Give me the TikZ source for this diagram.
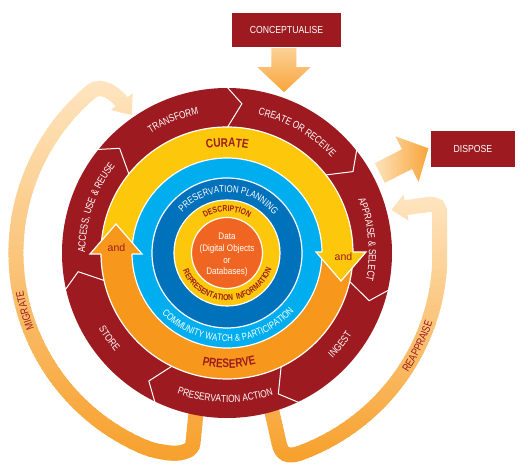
\documentclass[tikz,border=0pt]{standalone}
\usepackage{fontspec}
\setmainfont{Liberation Sans}
\newfontfamily\cnd{Liberation Sans}[FakeStretch=0.85]
\newfontfamily\cndn{Liberation Sans}[FakeStretch=0.8]
\usetikzlibrary{calc}
\definecolor{dred}{HTML}{9D1B20}
\definecolor{dccgold}{HTML}{FDC70C}
\definecolor{dccorange}{HTML}{F7981D}
\definecolor{dcclblue}{HTML}{00AEEF}
\definecolor{dccdblue}{HTML}{0071BB}
\definecolor{dcccore}{HTML}{F16522}
\definecolor{looporange}{HTML}{F7A12E}
\definecolor{looppale}{HTML}{FEE6C2}
\definecolor{arrpale}{HTML}{FDE3BC}
\definecolor{arrorange}{HTML}{F8A53A}
\newcommand\segfont{\cndn\fontsize{10.3}{11}\selectfont}
\newcommand\ringfont{\cndn\bfseries\fontsize{12.5}{14}\selectfont}
\newcommand\bluefont{\cndn\fontsize{9.8}{11}\selectfont}
\newcommand\inkfont{\cndn\bfseries\fontsize{8.5}{9}\selectfont}
\newcommand\loopfont{\cndn\fontsize{11}{12}\selectfont}
\makeatletter
\newdimen\arcTotW
\newdimen\arcChW
% #1 radius, #2 centre angle, #3 direction (1 = clockwise, tops outward; -1 = counter-clockwise, tops inward)
% #4 font, #5 colour, #6 text (spaces written as ~)
\newcommand\arclabel[6]{%
  \begin{pgfinterruptpicture}\setbox0=\hbox{#4#6}\global\arcTotW=\wd0\relax\end{pgfinterruptpicture}%
  \edef\arc@tw{\the\arcTotW}%
  \pgfmathsetmacro\arc@pos{-0.5*\arc@tw}%
  \@tfor\arc@ch:=#6\do{%
    \begin{pgfinterruptpicture}\setbox0=\hbox{#4\arc@ch}\global\arcChW=\wd0\relax\end{pgfinterruptpicture}%
    \edef\arc@cw{\the\arcChW}%
    \pgfmathsetmacro\arc@mid{\arc@pos+0.5*\arc@cw}%
    \pgfmathsetmacro\arc@ang{#2-(#3)*\arc@mid/#1*57.29578}%
    \pgfmathsetmacro\arc@rot{\arc@ang-(#3)*90}%
    \node[text=#5,font=#4,inner sep=0pt,anchor=base,rotate=\arc@rot] at (\arc@ang:#1) {\arc@ch};
    \pgfmathsetmacro\arc@pos{\arc@pos+\arc@cw}%
  }%
}
\makeatother
\tikzset{
  dccbox/.style={fill=dred,text=white,inner sep=0pt,font=\cnd\fontsize{10.2}{12}\selectfont},
  sepline/.style={draw=white,line width=1.2pt},
}
\begin{document}
\begin{tikzpicture}[x=1pt,y=1pt]
\useasboundingbox (-227,-220) rectangle (301,253);
\fill[white] (-227,-220) rectangle (301,253);

% ---- MIGRATE loop (left) ----
\foreach \yy in {-212,-208,...,180} {
  \pgfmathtruncatemacro\pp{max(0,min(100,(\yy+208)/383*100))}
  \begin{scope}
    \clip (-235,\yy) rectangle (-5,\yy+4.5);
    \draw[line width=15pt, draw=looppale!\pp!looporange]
      (-30,-150) -- (-34,-190) .. controls (-35.5,-205) and (-67.5,-201) .. (246:211)
      arc[start angle=246,end angle=130,radius=211]
      .. controls (-126,169.6) and (-112,160) .. (-104,149.7);
    \fill[looppale!\pp!looporange] (-116,143) -- (-95.3,138) -- (-94.3,159.7) -- cycle;
  \end{scope}
}
% ---- REAPPRAISE loop (right) ----
\foreach \yy in {-212,-208,...,60} {
  \pgfmathtruncatemacro\pp{max(0,min(100,(\yy+208)/266*100))}
  \begin{scope}
    \clip (5,\yy) rectangle (235,\yy+4.5);
    \draw[line width=15pt, draw=looppale!\pp!looporange]
      (43,-150) -- (52,-190) .. controls (54.4,-201.8) and (61.5,-204.3) .. (-70:213)
      arc[start angle=-70,end angle=-3,radius=213]
      -- (212.7,38) .. controls (212.7,47) and (210,49) .. (201,48.5) -- (177,45.2);
    \fill[looppale!\pp!looporange] (176.5,58.5) -- (164.5,43) -- (181.5,32.5) -- cycle;
  \end{scope}
}

% ---- outer ring ----
\fill[dred] (0,0) circle[radius=165];
\foreach \k in {0,...,6} {
  \pgfmathsetmacro\ang{90-\k*360/7}
  \draw[white,line width=1pt] (\ang:125) -- (\ang-5.7:150) -- (\ang:166);
}
% ---- curate / preserve ring ----
\fill[dccgold] (0:126) arc[start angle=0,end angle=180,radius=126] -- cycle;
\fill[dccorange] (180:126) arc[start angle=180,end angle=360,radius=126] -- cycle;
\draw[sepline] (0,0) circle[radius=126];
\filldraw[sepline,fill=dcclblue] (0,0) circle[radius=95];
\filldraw[sepline,fill=dccdblue] (0,0) circle[radius=75];
\filldraw[sepline,fill=dccgold] (0,0) circle[radius=53];
\filldraw[sepline,fill=dcccore] (0,0) circle[radius=35.5];
% ---- and arrowheads ----
\fill[dccorange] (-137,-1) -- (-111,29) -- (-85,-1) -- cycle;
\draw[sepline] (-126,-1) -- (-137,-1) -- (-111,29) -- (-85,-1) -- (-95,-1);
\fill[dccgold] (89,1) -- (114,-28) -- (139,1) -- cycle;
\draw[sepline] (126,1) -- (139,1) -- (114,-28) -- (89,1) -- (95,1);
\node[text=dred,font=\fontsize{10.5}{12}\selectfont] (andl) at (-110.5,5) {and};
\node[text=dred,font=\fontsize{10.5}{12}\selectfont] (andr) at (116.5,-4) {and};

% ---- labels ----
\arclabel{141.8}{112}{1}{\segfont}{white}{TRANSFORM}
\arclabel{141.8}{60}{1}{\segfont}{white}{CREATE~OR~RECEIVE}
\arclabel{141.8}{5.5}{1}{\segfont}{white}{APPRAISE~\&~SELECT}
\arclabel{149.2}{-39}{-1}{\segfont}{white}{INGEST}
\arclabel{149.2}{-91}{-1}{\segfont}{white}{PRESERVATION~ACTION}
\arclabel{149.2}{216}{-1}{\segfont}{white}{STORE}
\arclabel{141.8}{161}{1}{\segfont}{white}{ACCESS,~USE~\&~REUSE}
\arclabel{106}{90}{1}{\ringfont}{dred}{CURATE}
\arclabel{115}{-89}{-1}{\ringfont}{dred}{PRESERVE}
\arclabel{60.5}{89}{1}{\bluefont}{white}{PRESERVATION~PLANNING}
\arclabel{88.5}{-90}{-1}{\bluefont}{white}{COMMUNITY~WATCH~\&~PARTICIPATION}
\arclabel{41.5}{90}{1}{\inkfont}{dred}{DESCRIPTION}
\arclabel{47.5}{-90}{-1}{\inkfont}{dred}{REPRESENTATION~~INFORMATION}
\arclabel{207.1}{196}{1}{\loopfont}{dred}{MIGRATE}
\arclabel{216.9}{-26}{-1}{\loopfont}{dred}{REAPPRAISE}

\node[align=center,text=white,font=\cnd\fontsize{9.5}{11.7}\selectfont] (data) at (0,-2)
  {Data\\(Digital Objects\\or\\Databases)};

% ---- boxes and block arrows ----
\node[dccbox,minimum width=109pt,minimum height=34pt] (concept) at (59.5,223) {CONCEPTUALISE};
\node[dccbox,minimum width=84pt,minimum height=36pt] (dispose) at (246,104) {DISPOSE};
\begin{scope}[shift={(concept.south)}]
  \shade[top color=arrpale!70!arrorange,bottom color=arrorange]
    (-15,-1) -- (10,-1) -- (10,-20) -- (24,-20) -- (-2.5,-45) -- (-29,-20) -- (-15,-20) -- cycle;
\end{scope}
\begin{scope}[shift={(dispose.west)}]
  \shade[left color=arrpale,right color=arrorange]
    (-46.0,-33.8) -- (-18.8,-20.0) -- (-12.2,-32.9) -- (-2.4,0.7) -- (-35.4,12.6) -- (-28.8,-0.3) -- (-56.0,-14.2) -- cycle;
\end{scope}
\end{tikzpicture}
\end{document}
